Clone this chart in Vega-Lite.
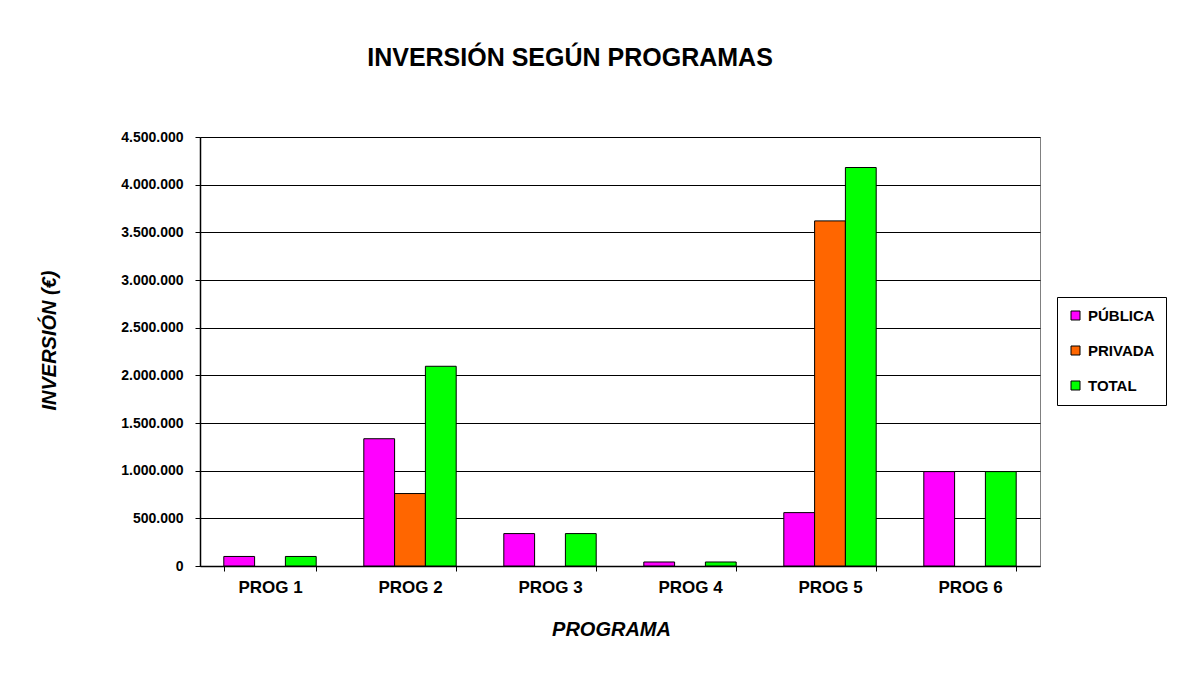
{
  "$schema": "https://vega.github.io/schema/vega-lite/v6.json",
  "width": 840,
  "height": 429,
  "autosize": {"type": "none"},
  "padding": {"left": 200, "top": 137, "right": 139, "bottom": 107},
  "background": "white",
  "config": {
    "font": "Liberation Sans",
    "locale": {"number": {"decimal": ",", "thousands": ".", "grouping": [3], "currency": ["", " €"]}},
    "view": {"stroke": "#808080", "strokeWidth": 1}
  },
  "title": {
    "text": "INVERSIÓN SEGÚN PROGRAMAS",
    "fontSize": 25,
    "fontWeight": "bold",
    "color": "black",
    "anchor": "middle",
    "dx": -50,
    "offset": 59
  },
  "data": {
    "values": [
      {"programa": "PROG 1", "serie": "PÚBLICA", "valor": 100000},
      {"programa": "PROG 1", "serie": "TOTAL", "valor": 100000},
      {"programa": "PROG 2", "serie": "PÚBLICA", "valor": 1335000},
      {"programa": "PROG 2", "serie": "PRIVADA", "valor": 760000},
      {"programa": "PROG 2", "serie": "TOTAL", "valor": 2095000},
      {"programa": "PROG 3", "serie": "PÚBLICA", "valor": 340000},
      {"programa": "PROG 3", "serie": "TOTAL", "valor": 340000},
      {"programa": "PROG 4", "serie": "PÚBLICA", "valor": 42000},
      {"programa": "PROG 4", "serie": "TOTAL", "valor": 42000},
      {"programa": "PROG 5", "serie": "PÚBLICA", "valor": 560000},
      {"programa": "PROG 5", "serie": "PRIVADA", "valor": 3620000},
      {"programa": "PROG 5", "serie": "TOTAL", "valor": 4180000},
      {"programa": "PROG 6", "serie": "PÚBLICA", "valor": 990000},
      {"programa": "PROG 6", "serie": "TOTAL", "valor": 990000}
    ]
  },
  "mark": {"type": "bar", "stroke": "black", "strokeWidth": 1},
  "encoding": {
    "x": {
      "field": "programa",
      "type": "nominal",
      "sort": ["PROG 1", "PROG 2", "PROG 3", "PROG 4", "PROG 5", "PROG 6"],
      "scale": {"paddingInner": 0.34, "paddingOuter": 0.17},
      "axis": {
        "title": "PROGRAMA",
        "titleFontSize": 20,
        "titleFontWeight": "bold",
        "titleFontStyle": "italic",
        "titleColor": "black",
        "titlePadding": 24,
        "titleX": 411,
        "labelAngle": 0,
        "labelFontSize": 17,
        "labelFontWeight": "bold",
        "labelColor": "black",
        "labelPadding": 8,
        "tickBand": "extent",
        "tickColor": "black",
        "tickSize": 5,
        "domainColor": "black",
        "domainWidth": 1.5
      }
    },
    "xOffset": {
      "field": "serie",
      "type": "nominal",
      "sort": ["PÚBLICA", "PRIVADA", "TOTAL"],
      "scale": {"domain": ["PÚBLICA", "PRIVADA", "TOTAL"], "paddingInner": 0, "paddingOuter": 0}
    },
    "y": {
      "field": "valor",
      "type": "quantitative",
      "scale": {"domain": [0, 4500000], "nice": false},
      "axis": {
        "title": "INVERSIÓN (€)",
        "titleFontSize": 20,
        "titleFontWeight": "bold",
        "titleFontStyle": "italic",
        "titleColor": "black",
        "titleX": -141,
        "titleY": 203,
        "values": [0, 500000, 1000000, 1500000, 2000000, 2500000, 3000000, 3500000, 4000000, 4500000],
        "format": ",d",
        "labelFontSize": 14,
        "labelFontWeight": "bold",
        "labelColor": "black",
        "labelPadding": 12,
        "tickColor": "black",
        "tickSize": 5,
        "domainColor": "black",
        "domainWidth": 1.5,
        "gridColor": "black",
        "gridWidth": 1,
        "gridOpacity": 1
      }
    },
    "color": {
      "field": "serie",
      "type": "nominal",
      "scale": {"domain": ["PÚBLICA", "PRIVADA", "TOTAL"], "range": ["#FF00FF", "#FF6600", "#00FF00"]},
      "legend": {
        "title": null,
        "orient": "none",
        "legendX": 857,
        "legendY": 160,
        "symbolType": "square",
        "symbolSize": 81,
        "symbolStrokeColor": "black",
        "symbolStrokeWidth": 1,
        "labelFontSize": 15,
        "labelFontWeight": "bold",
        "labelColor": "black",
        "labelOffset": 5,
        "rowPadding": 19,
        "padding": 11,
        "strokeColor": "black",
        "fillColor": "white"
      }
    }
  }
}
